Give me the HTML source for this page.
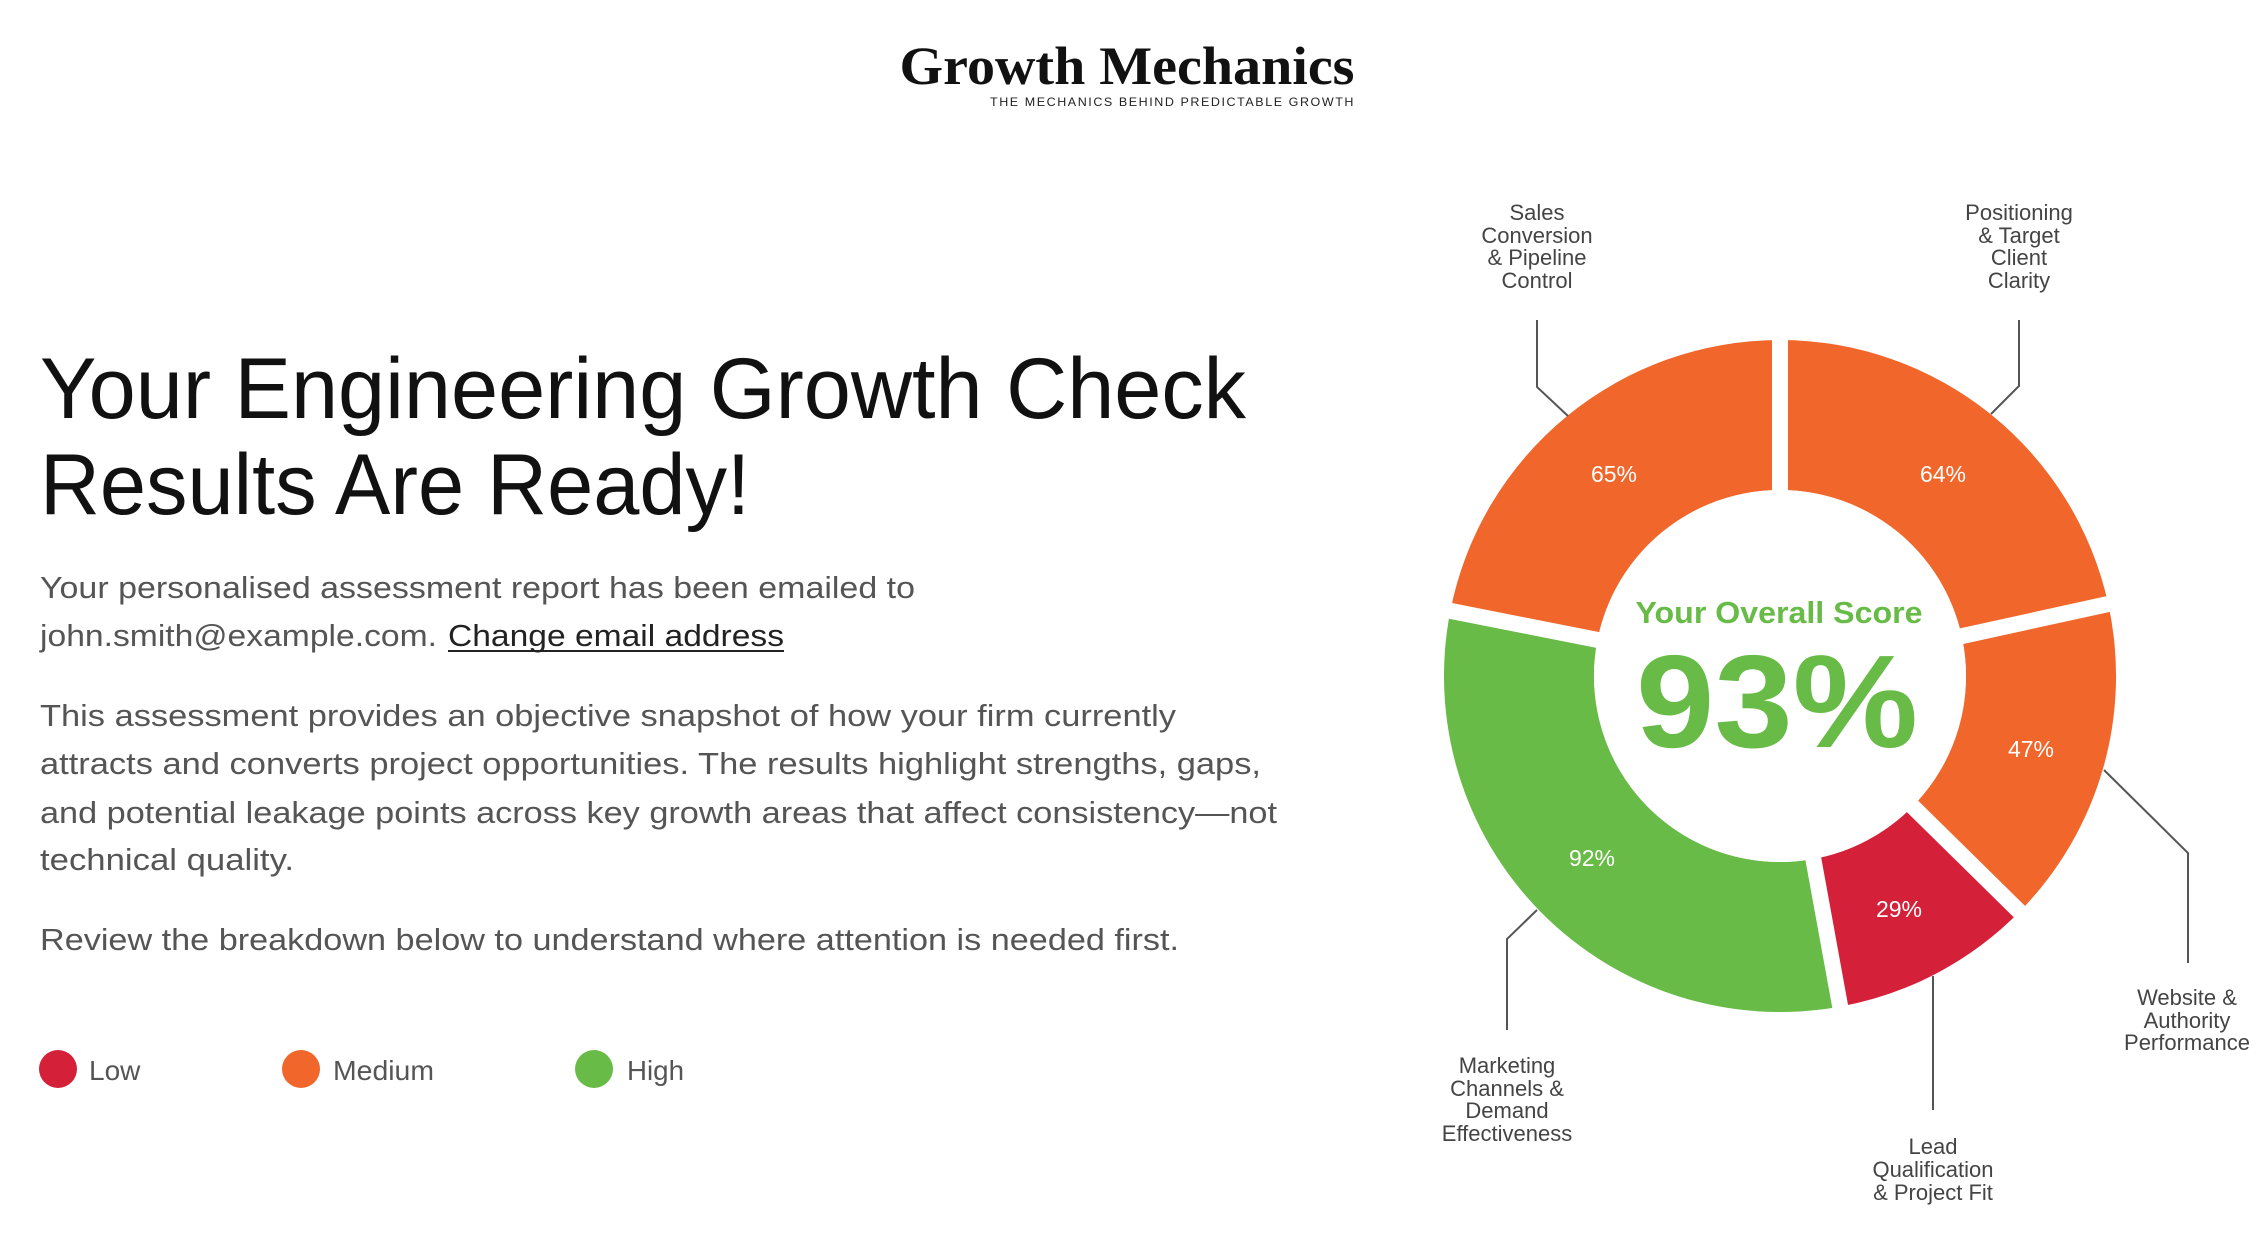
<!DOCTYPE html>
<html><head><meta charset="utf-8"><style>
html,body{margin:0;padding:0;background:#fff;}
svg{display:block;}
</style></head><body>
<svg width="2260" height="1246" viewBox="0 0 2260 1246" xmlns="http://www.w3.org/2000/svg" font-family="Liberation Sans, Arial, sans-serif">
<rect width="2260" height="1246" fill="#fff"/>
<!-- logo -->
<text x="1127" y="84" text-anchor="middle" font-family="Liberation Serif, serif" font-weight="bold" font-size="54" fill="#111" textLength="455" lengthAdjust="spacingAndGlyphs">Growth Mechanics</text>
<text x="990" y="106" font-size="12" fill="#222" textLength="365" lengthAdjust="spacingAndGlyphs" letter-spacing="1.5">THE MECHANICS BEHIND PREDICTABLE GROWTH</text>
<!-- heading -->
<text x="40" y="418" font-size="86" fill="#111" textLength="1206" lengthAdjust="spacingAndGlyphs">Your Engineering Growth Check</text>
<text x="40" y="514" font-size="86" fill="#111" textLength="710" lengthAdjust="spacingAndGlyphs">Results Are Ready!</text>
<!-- paragraphs -->
<g font-size="31" fill="#555">
<text x="40" y="598" textLength="875" lengthAdjust="spacingAndGlyphs">Your personalised assessment report has been emailed to</text>
<text x="40" y="646" textLength="397" lengthAdjust="spacingAndGlyphs">john.smith@example.com.</text>
<text x="448" y="646" fill="#222" textLength="336" lengthAdjust="spacingAndGlyphs">Change email address</text>
<text x="40" y="726" textLength="1136" lengthAdjust="spacingAndGlyphs">This assessment provides an objective snapshot of how your firm currently</text>
<text x="40" y="774" textLength="1221" lengthAdjust="spacingAndGlyphs">attracts and converts project opportunities. The results highlight strengths, gaps,</text>
<text x="40" y="823" textLength="1237" lengthAdjust="spacingAndGlyphs">and potential leakage points across key growth areas that affect consistency—not</text>
<text x="40" y="870" textLength="254" lengthAdjust="spacingAndGlyphs">technical quality.</text>
<text x="40" y="950" textLength="1139" lengthAdjust="spacingAndGlyphs">Review the breakdown below to understand where attention is needed first.</text>
</g>
<rect x="448" y="650" width="336" height="2" fill="#222"/>
<!-- legend -->
<circle cx="58" cy="1069" r="19" fill="#D42038"/>
<text x="89" y="1080" font-size="28" fill="#555">Low</text>
<circle cx="301" cy="1069" r="19" fill="#F0662B"/>
<text x="333" y="1080" font-size="28" fill="#555" textLength="101" lengthAdjust="spacingAndGlyphs">Medium</text>
<circle cx="594" cy="1069" r="19" fill="#67BB46"/>
<text x="627" y="1080" font-size="28" fill="#555" textLength="57" lengthAdjust="spacingAndGlyphs">High</text>
<!-- donut -->
<path d="M1780 340 A336 336 0 0 1 2108.2 603.9 L1961.7 636.1 A186 186 0 0 0 1780 490 Z" fill="#F0662B"/>
<path d="M2108.2 603.9 A336 336 0 0 1 2019.7 911.5 L1912.7 806.4 A186 186 0 0 0 1961.7 636.1 Z" fill="#F0662B"/>
<path d="M2019.7 911.5 A336 336 0 0 1 1840.1 1006.6 L1813.3 859 A186 186 0 0 0 1912.7 806.4 Z" fill="#D42038"/>
<path d="M1840.1 1006.6 A336 336 0 0 1 1450.4 610.7 L1597.5 639.9 A186 186 0 0 0 1813.3 859 Z" fill="#67BB46"/>
<path d="M1450.4 610.7 A336 336 0 0 1 1780 340 L1780 490 A186 186 0 0 0 1597.5 639.9 Z" fill="#F0662B"/>
<g stroke="#fff" stroke-width="16">
<line x1="1780" y1="676" x2="1780" y2="325"/>
<line x1="1780" y1="676" x2="2122" y2="601"/>
<line x1="1780" y1="676" x2="2030" y2="922"/>
<line x1="1780" y1="676" x2="1843" y2="1022"/>
<line x1="1780" y1="676" x2="1436" y2="608"/>
</g>
<circle cx="1780" cy="676" r="186" fill="#fff"/>
<g font-size="23" fill="#fff" text-anchor="middle">
<text x="1943" y="482">64%</text>
<text x="2031" y="757">47%</text>
<text x="1899" y="917">29%</text>
<text x="1592" y="866">92%</text>
<text x="1614" y="482">65%</text>
</g>
<text x="1779" y="623" text-anchor="middle" font-size="31" font-weight="bold" fill="#67BB46" textLength="287" lengthAdjust="spacingAndGlyphs">Your Overall Score</text>
<text x="1777" y="747" text-anchor="middle" font-size="132" font-weight="bold" fill="#67BB46" textLength="282" lengthAdjust="spacingAndGlyphs">93%</text>
<!-- leaders -->
<g stroke="#555" stroke-width="2" fill="none">
<polyline points="1537,320 1537,387 1568,416"/>
<polyline points="2019,320 2019,386 1991,414"/>
<polyline points="2104,770 2188,853 2188,963"/>
<polyline points="1933,976 1933,1110"/>
<polyline points="1537,910 1507,939 1507,1030"/>
</g>
<g font-size="22" fill="#444" text-anchor="middle">
<text x="1537" y="220">Sales</text><text x="1537" y="243">Conversion</text><text x="1537" y="265">&amp; Pipeline</text><text x="1537" y="288">Control</text>
<text x="2019" y="220">Positioning</text><text x="2019" y="243">&amp; Target</text><text x="2019" y="265">Client</text><text x="2019" y="288">Clarity</text>
<text x="2187" y="1005">Website &amp;</text><text x="2187" y="1028">Authority</text><text x="2187" y="1050">Performance</text>
<text x="1933" y="1154">Lead</text><text x="1933" y="1177">Qualification</text><text x="1933" y="1200">&amp; Project Fit</text>
<text x="1507" y="1073">Marketing</text><text x="1507" y="1096">Channels &amp;</text><text x="1507" y="1118">Demand</text><text x="1507" y="1141">Effectiveness</text>
</g>
</svg>
</body></html>
